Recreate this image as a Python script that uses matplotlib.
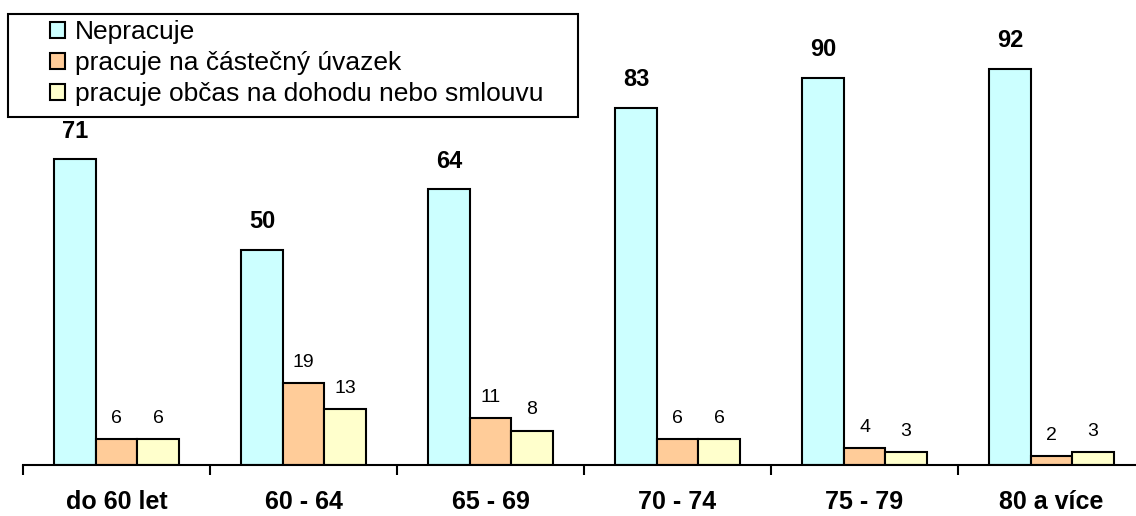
import matplotlib.pyplot as plt
from matplotlib.patches import Rectangle
import numpy as np

plt.rcParams['font.family'] = ['Liberation Sans', 'DejaVu Sans']

kategorie = ['do 60 let', '60 - 64', '65 - 69', '70 - 74', '75 - 79', '80 a více']
nepracuje = [71, 50, 64, 83, 90, 92]
castecny = [6, 19, 11, 6, 4, 2]
obcas = [6, 13, 8, 6, 3, 3]

nazvy = ['Nepracuje', 'pracuje na částečný úvazek', 'pracuje občas na dohodu nebo smlouvu']
barvy = ['#CCFFFF', '#FFCC99', '#FFFFCC']

W, H = 1136, 516
fig = plt.figure(figsize=(W / 100, H / 100), dpi=100)
# osa presahuje pravy okraj obrazku (jako v originale)
ax = fig.add_axes([23 / W, 51 / H, 1122 / W, 465 / H])

x = np.arange(len(kategorie))
w = 0.222
serie = [nepracuje, castecny, obcas]
for i, (vals, barva, nazev) in enumerate(zip(serie, barvy, nazvy)):
    pos = x + (i - 1) * w
    ax.bar(pos, vals, width=w, color=barva, edgecolor='black', linewidth=1.5, label=nazev)
    for px, v in zip(pos, vals):
        if i == 0:
            ax.text(px, v + 3.9, str(v), ha='center', va='bottom', fontsize=17, fontweight='bold')
        else:
            ax.text(px, v + 2.8, str(v), ha='center', va='bottom', fontsize=14)

ax.set_xlim(-0.5, len(kategorie) - 0.5)
ax.set_ylim(0, 108)

for s in ['left', 'right', 'top']:
    ax.spines[s].set_visible(False)
ax.spines['bottom'].set_linewidth(1.5)
ax.set_yticks([])

# carky mezi skupinami
ax.set_xticks(np.arange(len(kategorie) + 1) - 0.5)
ax.set_xticklabels([])
ax.tick_params(axis='x', which='major', direction='out', length=7, width=1.5)
ax.set_xticks(x, minor=True)
ax.set_xticklabels(kategorie, minor=True, fontsize=18, fontweight='bold')
ax.tick_params(axis='x', which='minor', length=0, pad=18)

# ramecek legendy zvlast (je sirsi nez text)
fig.patches.append(Rectangle((8 / W, 1 - 117 / H), 570 / W, 103 / H, transform=fig.transFigure,
                             facecolor='white', edgecolor='black', linewidth=1.5, zorder=5))
leg = fig.legend(loc='upper left', bbox_to_anchor=(50 / W, 1 - 20 / H), fontsize=19,
                 frameon=False, handlelength=0.55, handleheight=0.55,
                 handletextpad=0.38, labelspacing=0.27, borderpad=0, borderaxespad=0)
leg.set_zorder(6)

plt.savefig('out.png', dpi=100)
